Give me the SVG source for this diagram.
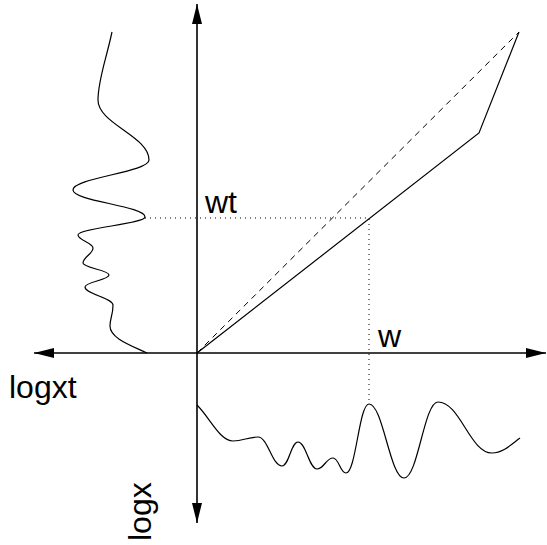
<svg xmlns="http://www.w3.org/2000/svg" width="547" height="545" viewBox="0 0 547 545">
<style>
.ax{stroke:#000;stroke-width:1.6;fill:none}
.cv{stroke:#000;stroke-width:1.2;fill:none}
.dot{stroke:#000;stroke-width:1;stroke-dasharray:1 4;fill:none}
.dash{stroke:#000;stroke-width:1;stroke-dasharray:6 5;fill:none}
.lbl{font-family:"Liberation Sans",Arial,sans-serif;font-size:32px;fill:#000}
</style>
<defs>
<marker id="ah" markerUnits="userSpaceOnUse" markerWidth="20" markerHeight="10" refX="20" refY="5" orient="auto">
<path d="M0,0 L20,5 L0,10 z" fill="#000"/>
</marker>
</defs>
<rect width="547" height="545" fill="#fff"/>
<g id="axes">
<line class="ax" x1="197" y1="353" x2="34" y2="353" marker-end="url(#ah)"/>
<line class="ax" x1="197" y1="353" x2="546" y2="353" marker-end="url(#ah)"/>
<line class="ax" x1="197" y1="353" x2="197" y2="4" marker-end="url(#ah)"/>
<line class="ax" x1="197" y1="353" x2="197" y2="523" marker-end="url(#ah)"/>
</g>
<g id="lines">
<path class="dash" d="M197,353 L519,32"/>
<path class="cv" d="M197,353 L479,133 L519,32"/>
<path class="dot" d="M145,218 L369,218 L369,404"/>
</g>
<g id="left-curve">
<path class="cv" d="M112,32 C106,60 98,80 98,100 C98,124 149,136 149,160 C149,172 73,178 73,190 C73,201 145,206 145,217 C145,224 78,228 78,235 C78,240 93,243 93,248 C93,254 83,257 83,263 C83,268 109,270 109,275 C109,280 85,282 85,287 C85,294 113,298 113,305 C113,315 110,318 110,326 C110,338 130,345 147,353"/>
</g>
<g id="bottom-curve">
<path class="cv" d="M197,405 C210,418 220,441 233,441 C243,441 248,437 258,437 C268,437 272,466 282,466 C289,466 291,442 298,442 C306,442 309,469 317,469 C324,469 326,458 333,458 C339,458 340,473 346,473 C356,473 359,404 369,404 C383,404 390,478 404,478 C418,478 424,402 438,402 C460,402 470,453 492,453 C503,453 512,444 520,438"/>
</g>
<g id="labels">
<text class="lbl" x="205" y="213">wt</text>
<text class="lbl" x="378" y="347">w</text>
<text class="lbl" x="9" y="398">logxt</text>
<text class="lbl" transform="translate(151,541) rotate(-90)">logx</text>
</g>
</svg>
